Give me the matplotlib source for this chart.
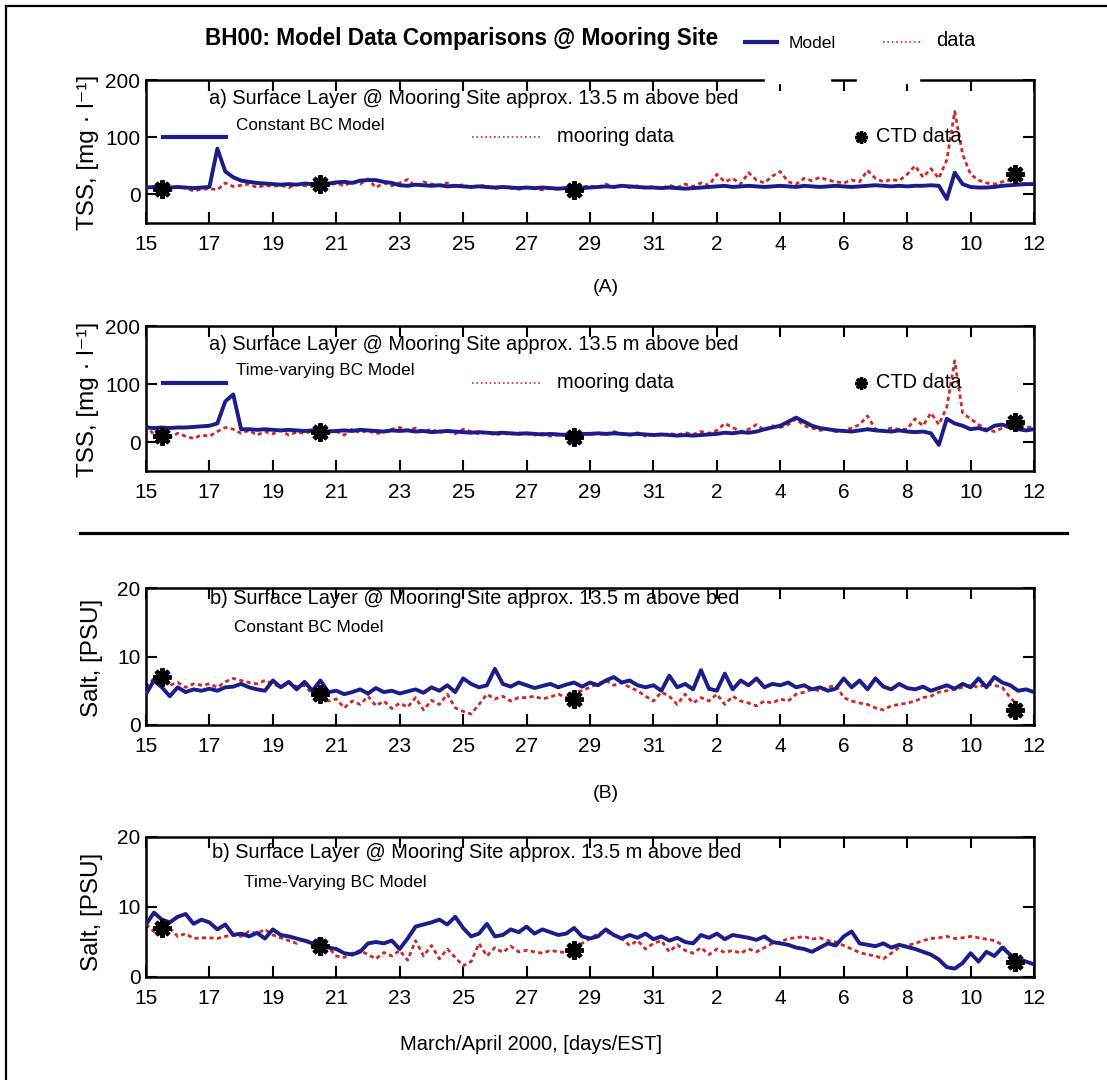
import numpy as np
import matplotlib
matplotlib.use("Agg")
import matplotlib.pyplot as plt
from matplotlib.lines import Line2D
from matplotlib.patches import Rectangle

plt.rcParams["font.family"] = ["Liberation Sans", "DejaVu Sans"]

# --- data (days since 1 March 2000, sampled every 6 h) ---
t = np.arange(15, 43.001, 0.25)

tss_const_model = [
    12, 13, 11, 12, 13, 12, 11, 12,
    13, 80, 40, 30, 24, 22, 20, 19,
    18, 17, 18, 17, 19, 18, 20, 19,
    21, 22, 20, 24, 25, 25, 22, 20,
    16, 15, 17, 16, 15, 16, 14, 15,
    14, 13, 14, 13, 12, 13, 12, 11,
    12, 11, 12, 11, 10, 11, 12, 11,
    12, 13, 14, 13, 15, 14, 13, 12,
    12, 11, 12, 11, 10, 11, 12, 13,
    14, 15, 13, 14, 15, 14, 13, 14,
    15, 14, 13, 15, 14, 13, 14, 15,
    14, 13, 14, 15, 16, 15, 14, 15,
    14, 15, 15, 16, 15, -8, 38, 18,
    13, 12, 12, 13, 15, 16, 17, 18,
    18]
tss_const_data = [
    14, 10, 12, 8, 14, 11, 6, 9,
    10, 8, 20, 14, 16, 18, 12, 16,
    14, 16, 12, 18, 15, 14, 18, 15,
    20, 15, 22, 18, 27, 12, 20, 15,
    20, 26, 14, 22, 18, 16, 20, 14,
    17, 12, 16, 14, 10, 13, 11, 9,
    12, 10, 8, 11, 9, 12, 10, 13,
    15, 12, 18, 13, 16, 12, 15, 11,
    14, 10, 16, 12, 18, 14, 20, 16,
    35, 22, 28, 18, 38, 25, 20, 32,
    40, 22, 18, 28, 24, 30, 25, 22,
    20, 25, 22, 42, 28, 22, 26, 24,
    35, 50, 30, 45, 28, 60, 145, 70,
    35, 25, 20, 18, 22, 25, 20, 18,
    18]
tss_tv_model = [
    25, 24, 25, 24, 25, 25, 26, 27,
    28, 32, 70, 82, 22, 22, 21, 22,
    21, 20, 21, 20, 19, 20, 19, 18,
    19, 20, 19, 21, 20, 19, 18, 20,
    19, 20, 18, 19, 17, 18, 19, 18,
    17, 16, 17, 16, 15, 16, 15, 14,
    15, 14, 13, 14, 13, 12, 13, 14,
    14, 15, 14, 15, 14, 13, 14, 13,
    12, 13, 12, 11, 12, 11, 12, 13,
    14, 16, 15, 17, 16, 18, 22, 25,
    28, 35, 42, 35, 28, 24, 22, 20,
    19, 18, 20, 22, 20, 19, 18, 20,
    18, 17, 18, 15, -5, 40, 32, 28,
    22, 24, 20, 28, 30, 25, 22, 20,
    22]
tss_tv_data = [
    30, 12, 18, 8, 15, 10, 6, 12,
    10, 18, 25, 22, 15, 20, 12, 18,
    14, 20, 12, 17, 15, 19, 16, 20,
    18, 12, 22, 16, 20, 14, 18, 22,
    25, 20, 24, 18, 22, 16, 20, 14,
    22, 18, 14, 17, 12, 15, 13, 16,
    14, 12, 15, 10, 12, 14, 11, 16,
    13, 15, 12, 18, 14, 12, 16, 10,
    14, 11, 15, 12, 16, 13, 18, 15,
    20, 32, 25, 18, 22, 30, 20, 28,
    25, 30, 40, 28, 24, 20, 22, 18,
    20, 24, 30, 45, 22, 20, 24, 22,
    22, 40, 28, 50, 30, 60, 140, 50,
    40, 30, 22, 18, 24, 28, 30, 26,
    25]
salt_const_model = [
    4.5, 6.5, 5.5, 4.2, 5.5, 4.8, 5.2, 5.0,
    5.3, 5.0, 5.5, 5.6, 6.0, 5.5, 5.2, 5.0,
    6.5, 5.5, 6.3, 5.2, 6.3, 5.0, 6.5, 4.8,
    5.0, 4.5, 4.8, 5.2, 4.6, 5.4, 4.8, 5.0,
    4.6, 4.9, 5.2, 4.7, 5.5, 5.0, 5.8, 4.8,
    6.8, 6.0, 5.5, 5.8, 8.2, 6.0, 5.6, 6.2,
    5.8, 5.4, 5.7, 6.0, 5.5, 5.9, 6.2, 5.6,
    6.2, 5.8, 6.5, 7.0, 6.2, 6.5, 5.8, 5.5,
    5.8, 5.0, 7.2, 5.5, 6.0, 5.2, 8.0, 5.3,
    5.0, 7.5, 5.2, 6.5, 5.8, 6.8, 5.5, 6.0,
    5.8, 6.2, 5.5, 5.8, 5.2, 5.5, 5.0, 5.3,
    6.8, 5.5, 6.5, 5.2, 6.8, 5.6, 5.2, 6.0,
    5.4, 5.2, 5.6, 5.0, 5.4, 5.8, 5.3, 6.0,
    5.5, 6.8, 5.5, 7.0, 6.2, 5.8, 5.0, 5.2,
    4.8]
salt_const_data = [
    5.5, 6.8, 6.5, 5.8, 6.2, 5.5, 6.0, 5.8,
    6.0, 5.5, 6.3, 6.8, 6.5, 6.2, 6.0, 6.5,
    6.0, 5.5, 6.2, 5.6, 5.8, 4.5, 4.0, 3.5,
    3.8, 2.5, 3.5, 3.0, 4.2, 2.8, 3.5, 2.4,
    3.2, 2.6, 4.0, 2.2, 3.6, 3.0, 4.5, 2.5,
    2.0, 1.6, 3.0, 4.5, 3.8, 4.2, 3.5, 4.0,
    4.0, 4.2, 3.8, 4.1, 4.5, 4.0, 4.8, 5.0,
    5.5, 6.0, 6.5, 5.8, 6.2, 5.5, 5.0, 4.2,
    3.5, 4.8, 4.2, 3.0, 4.5, 3.2, 4.0, 3.5,
    4.5, 3.0, 4.2, 3.5, 3.2, 2.8, 3.5, 3.2,
    3.8, 3.5, 4.5, 4.8, 5.2, 5.0, 5.5, 5.8,
    4.0, 3.5, 3.2, 3.0, 2.5, 2.2, 2.8, 3.0,
    3.2, 3.5, 4.0, 4.2, 4.8, 5.0, 5.2, 5.5,
    5.8, 5.5, 6.0, 5.8, 5.5, 4.0, 2.8, np.nan,
    np.nan]
salt_tv_model = [
    7.5, 9.2, 8.2, 7.8, 8.6, 9.0, 7.6, 8.2,
    7.8, 6.8, 7.5, 6.0, 6.2, 5.8, 6.3, 5.5,
    6.8, 6.0, 5.8, 5.5, 5.2, 4.8, 4.6, 4.2,
    4.0, 3.4, 3.2, 3.6, 4.8, 5.0, 4.8, 5.2,
    4.0, 5.5, 7.2, 7.5, 7.8, 8.2, 7.5, 8.6,
    7.0, 5.8, 6.2, 7.6, 5.8, 6.0, 6.8, 6.4,
    7.2, 6.2, 6.8, 6.4, 6.0, 6.2, 7.0, 5.8,
    5.5, 5.8, 6.8, 6.0, 5.5, 6.0, 5.6, 6.2,
    5.4, 5.8, 5.2, 5.6, 5.0, 4.8, 6.0, 5.6,
    6.2, 5.4, 6.0, 5.8, 5.6, 5.3, 5.8, 5.0,
    4.8, 4.6, 4.2, 4.0, 3.6, 4.2, 4.8, 4.5,
    5.8, 6.5, 4.8, 4.6, 4.4, 4.8, 4.2, 4.6,
    4.3, 4.0, 3.6, 3.2, 2.5, 1.4, 1.2, 2.0,
    3.4, 2.2, 3.6, 3.0, 4.2, 3.2, 2.6, 2.2,
    1.8]
salt_tv_data = [
    7.5, 6.5, 6.0, 7.0, 5.8, 6.2, 5.5, 5.6,
    5.6, 5.5, 5.8, 6.0, 5.8, 6.5, 6.2, 6.8,
    6.0, 5.6, 5.2, 4.8, 5.5, 4.5, 5.8, 4.2,
    3.0, 2.8, 3.4, 3.8, 3.2, 2.6, 3.5, 3.0,
    3.8, 2.4, 5.2, 3.0, 4.5, 2.6, 4.0, 2.8,
    1.6, 2.2, 4.8, 3.0, 4.2, 3.5, 4.4, 3.6,
    3.8, 3.6, 3.4, 3.8, 3.6, 3.5, 4.2, 4.8,
    5.5, 6.2, 6.5, 6.0, 5.5, 4.5, 5.2, 4.0,
    4.8, 5.2, 3.6, 4.6, 3.8, 3.4, 4.2, 3.2,
    4.0, 3.5, 3.8, 3.4, 4.0, 3.6, 4.2, 4.8,
    5.0, 5.5, 5.6, 5.8, 5.4, 5.6, 5.2, 5.0,
    4.5, 4.0, 3.5, 3.2, 3.0, 2.6, 3.4, 4.2,
    4.5, 4.8, 5.2, 5.5, 5.6, 5.8, 5.5, 5.6,
    5.8, 5.6, 5.4, 5.2, 4.6, 3.0, np.nan, np.nan,
    np.nan]

ctd_t = [15.5, 20.5, 28.5, 42.4]
ctd_tss = [10, 18, 8, 35]
ctd_salt = [7.0, 4.5, 3.8, 2.2]

xticks = [15, 17, 19, 21, 23, 25, 27, 29, 31, 33, 35, 37, 39, 41, 43]
xticklabels = ["15", "17", "19", "21", "23", "25", "27", "29", "31",
               "2", "4", "6", "8", "10", "12"]

model_col = "#1c1c8a"
data_col = "#cc2a2a"

W, H = 1107, 1080
fig = plt.figure(figsize=(W / 100, H / 100), dpi=100)


def fx(px):
    return px / W


def fy(py):
    return 1 - py / H


def fig_line(x0, x1, y, **kw):
    fig.add_artist(Line2D([fx(x0), fx(x1)], [fy(y), fy(y)],
                          transform=fig.transFigure, **kw))


def txt(x, y, s, size, **kw):
    kw.setdefault("va", "center")
    fig.text(fx(x), fy(y), s, fontsize=size, **kw)


def make_axes(top, bottom, model, data, ctd, ylim, yticks):
    ax = fig.add_axes([fx(146), fy(bottom), fx(1034) - fx(146), (bottom - top) / H])
    ax.plot(t, data, color=data_col, lw=2.0, ls=(0, (1.5, 1.2)), zorder=2)
    ax.plot(t, model, color=model_col, lw=2.8, zorder=3)
    ax.plot(ctd_t, ctd, ls="none", marker=(8, 2, 0), ms=13, mew=3.2,
            color="black", zorder=4)
    ax.set_xlim(15, 43)
    ax.set_ylim(*ylim)
    ax.set_xticks(xticks)
    ax.set_xticklabels(xticklabels)
    ax.set_yticks(yticks)
    ax.tick_params(direction="in", length=8, width=1.5, top=True, right=True,
                   labelsize=15, pad=4)
    ax.tick_params(axis="x", pad=9)
    for sp in ax.spines.values():
        sp.set_linewidth(1.8)
    return ax


ax1 = make_axes(80, 223, tss_const_model, tss_const_data, ctd_tss, (-50, 200), [0, 100, 200])
ax2 = make_axes(326, 471, tss_tv_model, tss_tv_data, ctd_tss, (-50, 200), [0, 100, 200])
ax3 = make_axes(588, 725, salt_const_model, salt_const_data, ctd_salt, (0, 20), [0, 10, 20])
ax4 = make_axes(837, 977, salt_tv_model, salt_tv_data, ctd_salt, (0, 20), [0, 10, 20])

# gaps in the top frame of panel (a) left by the title legend box
for x0, x1 in [(765, 830), (857, 919)]:
    fig.add_artist(Rectangle((fx(x0), fy(82.5)), fx(x1) - fx(x0), 5.5 / H,
                             transform=fig.transFigure, color="white", zorder=10))

# outer frame (top and left) and separator
fig.add_artist(Line2D([fx(6), fx(1107)], [fy(6), fy(6)], transform=fig.transFigure, color="black", lw=1.6))
fig.add_artist(Line2D([fx(6), fx(6)], [fy(6), fy(1080)], transform=fig.transFigure, color="black", lw=1.6))
fig_line(80, 1067, 533, color="black", lw=2.3)

# title and top legend
txt(205, 38, "BH00: Model Data Comparisons @ Mooring Site", 16.3, fontweight="bold")
fig_line(745, 777, 42, color=model_col, lw=3)
txt(789, 43, "Model", 12.6)
fig_line(883, 923, 42, color=data_col, lw=1.2, ls=":")
txt(936, 41, "data", 14.5)

# panel texts
sub_a = "a) Surface Layer @ Mooring Site approx. 13.5 m above bed"
sub_b = "b) Surface Layer @ Mooring Site approx. 13.5 m above bed"
for top, name in [(80, "Constant BC Model"), (326, "Time-varying BC Model")]:
    txt(209, top + 18, sub_a, 14.4)
    fig_line(163, 226, top + 57, color=model_col, lw=3)
    txt(236, top + 45, name, 12.3)
    fig_line(472, 540, top + 57, color=data_col, lw=1.2, ls=":")
    txt(557, top + 57, "mooring data", 14.4)
    fig.add_artist(Line2D([fx(861)], [fy(top + 57)], transform=fig.transFigure, ls="none",
                          marker=(8, 2, 0), ms=9, mew=2.4, color="black"))
    txt(876, top + 57, "CTD data", 14.4)

txt(210, 599, sub_b, 14.4)
txt(234, 627, "Constant BC Model", 12.4)
txt(212, 853, sub_b, 14.4)
txt(244, 883, "Time-Varying BC Model", 12.5)

txt(606, 287, "(A)", 14, ha="center")
txt(606, 793, "(B)", 14, ha="center")

# axis labels
txt(88, 152, "TSS, [mg · l⁻¹]", 17.5, rotation=90, ha="center")
txt(88, 399, "TSS, [mg · l⁻¹]", 17.5, rotation=90, ha="center")
txt(92, 658, "Salt, [PSU]", 17.5, rotation=90, ha="center")
txt(92, 912, "Salt, [PSU]", 17.5, rotation=90, ha="center")
txt(531, 1045, "March/April 2000, [days/EST]", 14.5, ha="center")

fig.savefig("out.png", dpi=100)
